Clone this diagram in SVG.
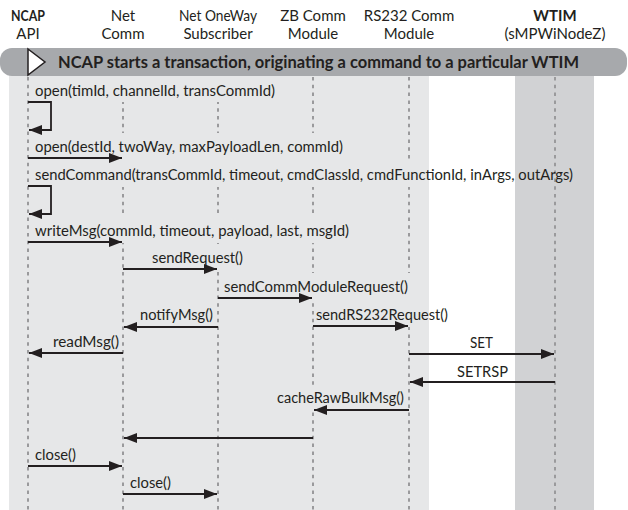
<svg xmlns="http://www.w3.org/2000/svg" width="628" height="510" viewBox="0 0 628 510">
<style>
.hd{font-family:Lato,"Open Sans",sans-serif;font-size:15px;fill:#231f20;text-anchor:middle}
.hdb{font-weight:bold}
.lbl{font-family:Lato,"Open Sans",sans-serif;font-size:15.5px;fill:#231f20}
.ban{font-family:Lato,"Open Sans",sans-serif;font-size:17px;font-weight:bold;fill:#231f20}
.life{stroke:#9a9a9c;stroke-width:2;stroke-dasharray:3.5 4.3;fill:none}
.msg{stroke:#231f20;stroke-width:1.8;fill:none}
.bg{fill:#e6e7e8}
</style>
<defs>
<marker id="ah" markerUnits="userSpaceOnUse" markerWidth="14" markerHeight="11" refX="13" refY="5" orient="auto">
<path d="M0,0 L13,5 L0,10 Z" fill="#231f20"/>
</marker>
</defs>
<rect width="628" height="510" fill="#ffffff"/>
<g id="bands">
<rect x="9" y="70" width="420" height="440" fill="#e6e7e8"/>
<rect x="515" y="70" width="79" height="440" fill="#d1d2d4"/>
</g>
<g id="banner">
<rect x="0" y="48" width="627" height="28" rx="12" ry="12" fill="#a7a9ac"/>
<path d="M28,49 L45,62 L28,75 Z" fill="#ffffff" stroke="#231f20" stroke-width="1.5"/>
<text x="58" y="68" class="ban" textLength="521" lengthAdjust="spacingAndGlyphs">NCAP starts a transaction, originating a command to a particular WTIM</text>
</g>
<g id="ncap-api">
<text x="28" y="20.5" class="hd hdb" textLength="34" lengthAdjust="spacingAndGlyphs">NCAP</text>
<text x="28" y="39" class="hd">API</text>
<line x1="28" y1="77" x2="28" y2="510" class="life"/>
</g>
<g id="net-comm">
<text x="123" y="20.5" class="hd">Net</text>
<text x="123" y="39" class="hd">Comm</text>
<line x1="123" y1="77" x2="123" y2="510" class="life"/>
</g>
<g id="net-oneway-subscriber">
<text x="218" y="20.5" class="hd" textLength="78" lengthAdjust="spacingAndGlyphs">Net OneWay</text>
<text x="218" y="39" class="hd">Subscriber</text>
<line x1="218" y1="77" x2="218" y2="510" class="life"/>
</g>
<g id="zb-comm-module">
<text x="313" y="20.5" class="hd">ZB Comm</text>
<text x="313" y="39" class="hd">Module</text>
<line x1="313" y1="77" x2="313" y2="510" class="life"/>
</g>
<g id="rs232-comm-module">
<text x="409" y="20.5" class="hd">RS232 Comm</text>
<text x="409" y="39" class="hd">Module</text>
<line x1="409" y1="77" x2="409" y2="510" class="life"/>
</g>
<g id="wtim">
<text x="555" y="20.5" class="hd hdb">WTIM</text>
<text x="555" y="39" class="hd">(sMPWiNodeZ)</text>
<line x1="555" y1="77" x2="555" y2="510" class="life"/>
</g>
<g id="label-backgrounds">
<rect class="bg" x="33" y="77" width="246" height="25"/>
<rect class="bg" x="33" y="133" width="314" height="26"/>
<rect class="bg" x="33" y="161" width="395" height="26"/>
<rect class="bg" x="33" y="217" width="320" height="26"/>
<rect class="bg" x="150" y="244" width="96" height="26"/>
<rect class="bg" x="222" y="273" width="190" height="26"/>
<rect class="bg" x="138" y="302" width="78" height="26"/>
<rect class="bg" x="314" y="301" width="114" height="26"/>
<rect class="bg" x="51" y="328" width="71" height="26"/>
<rect class="bg" x="275" y="385" width="132" height="26"/>
<rect class="bg" x="33" y="441" width="46" height="26"/>
<rect class="bg" x="128" y="469" width="47" height="26"/>
</g>
<g id="connectors">
<polyline class="msg" points="28,102 51,102 51,130 29,130" marker-end="url(#ah)"/>
<line class="msg" x1="28" y1="158" x2="122" y2="158" marker-end="url(#ah)"/>
<polyline class="msg" points="28,186 51,186 51,214 29,214" marker-end="url(#ah)"/>
<line class="msg" x1="28" y1="242" x2="122" y2="242" marker-end="url(#ah)"/>
<line class="msg" x1="123" y1="269" x2="217" y2="269" marker-end="url(#ah)"/>
<line class="msg" x1="218" y1="298" x2="312" y2="298" marker-end="url(#ah)"/>
<line class="msg" x1="218" y1="327" x2="124" y2="327" marker-end="url(#ah)"/>
<line class="msg" x1="313" y1="326" x2="408" y2="326" marker-end="url(#ah)"/>
<line class="msg" x1="123" y1="353" x2="29" y2="353" marker-end="url(#ah)"/>
<line class="msg" x1="409" y1="354" x2="554" y2="354" marker-end="url(#ah)"/>
<line class="msg" x1="555" y1="382" x2="410" y2="382" marker-end="url(#ah)"/>
<line class="msg" x1="409" y1="410" x2="314" y2="410" marker-end="url(#ah)"/>
<line class="msg" x1="313" y1="438" x2="124" y2="438" marker-end="url(#ah)"/>
<line class="msg" x1="28" y1="466" x2="122" y2="466" marker-end="url(#ah)"/>
<line class="msg" x1="123" y1="494" x2="217" y2="494" marker-end="url(#ah)"/>
<text class="lbl" x="35" y="96" textLength="240" lengthAdjust="spacingAndGlyphs">open(timId, channelId, transCommId)</text>
<text class="lbl" x="35" y="152" textLength="308" lengthAdjust="spacingAndGlyphs">open(destId, twoWay, maxPayloadLen, commId)</text>
<text class="lbl" x="35" y="180" textLength="538" lengthAdjust="spacingAndGlyphs">sendCommand(transCommId, timeout, cmdClassId, cmdFunctionId, inArgs, outArgs)</text>
<text class="lbl" x="35" y="236" textLength="314" lengthAdjust="spacingAndGlyphs">writeMsg(commId, timeout, payload, last, msgId)</text>
<text class="lbl" x="152" y="263" textLength="91" lengthAdjust="spacingAndGlyphs">sendRequest()</text>
<text class="lbl" x="224" y="292" textLength="184" lengthAdjust="spacingAndGlyphs">sendCommModuleRequest()</text>
<text class="lbl" x="140" y="320" textLength="73" lengthAdjust="spacingAndGlyphs">notifyMsg()</text>
<text class="lbl" x="316" y="320" textLength="132" lengthAdjust="spacingAndGlyphs">sendRS232Request()</text>
<text class="lbl" x="53" y="347" textLength="66" lengthAdjust="spacingAndGlyphs">readMsg()</text>
<text class="lbl" x="470" y="348" textLength="23" lengthAdjust="spacingAndGlyphs">SET</text>
<text class="lbl" x="457" y="377" textLength="51" lengthAdjust="spacingAndGlyphs">SETRSP</text>
<text class="lbl" x="277" y="403" textLength="127" lengthAdjust="spacingAndGlyphs">cacheRawBulkMsg()</text>
<text class="lbl" x="35" y="460" textLength="41" lengthAdjust="spacingAndGlyphs">close()</text>
<text class="lbl" x="130" y="488" textLength="41" lengthAdjust="spacingAndGlyphs">close()</text>
</g>
</svg>
